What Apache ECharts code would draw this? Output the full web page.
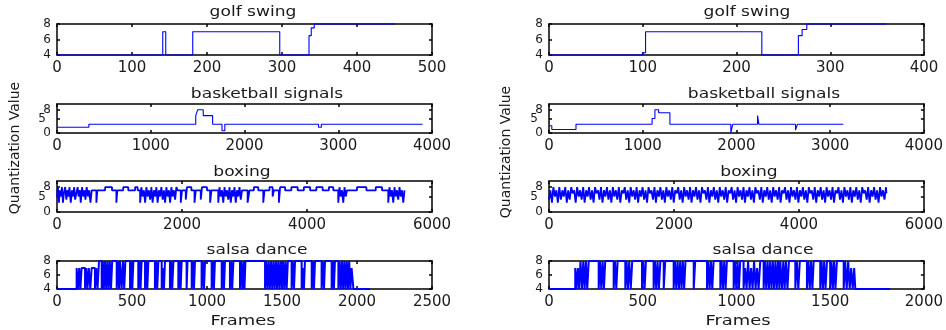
<!DOCTYPE html>
<html>
<head>
<meta charset="utf-8">
<script src="https://cdn.jsdelivr.net/npm/echarts@6/dist/echarts.min.js"></script>
<style>html,body{margin:0;padding:0;background:#fff}#c{width:946px;height:330px}</style>
</head>
<body>
<div id="c"></div>
<script>
// ---------- data (frame of each change, quantization value held from that frame) ----------
const golfL_frames = [0, 141, 145, 181, 297, 336, 339, 343, 450];
const golfL_values = [4, 7, 4, 7, 4, 6.5, 7.5, 8, 8];

const golfR_frames = [0, 100, 103, 227, 266, 270, 275, 360];
const golfR_values = [4, 4.3, 7, 4, 6.5, 7.3, 8, 8];

const bballL_frames = [0, 340, 1480, 1500, 1560, 1660, 1760, 1790, 2790, 2820, 3900];
const bballL_values = [2, 3, 6, 8, 6, 3, 0.8, 3, 2, 3, 3];

const bballR_frames = [0, 30, 288, 1100, 1130, 1170, 1290, 1940, 1960, 2225, 2240, 2630, 2650, 3140];
const bballR_values = [2.5, 1.2, 3, 5, 8, 7, 3, 0, 3, 6, 3, 1, 3, 3];

const boxL_frames = [0,15,30,45,60,80,95,110,130,150,165,185,200,220,240,255,275,290,310,330,345,365,380,400,420,440,455,475,495,515,535,555,
  630,645,770,880,950,965,1060,1140,1250,1290,
  1330,1350,1370,1390,1410,1430,1450,1470,1490,1510,1530,1550,1570,1590,1610,1630,1650,1670,1690,1710,1730,1750,1770,1790,1810,1830,1850,1870,1890,1910,1930,
  1980,2000,2060,2080,2150,2200,2220,2300,2320,2400,2450,2470,
  2580,2600,2620,2640,2660,2680,2700,2720,2740,2760,2780,2800,2820,2840,2860,2880,2900,2920,2940,2960,
  3050,3080,3150,3220,3300,3320,3400,3450,3470,3550,3570,3650,
  3750,3850,3950,4050,4150,4250,4350,4420,
  4500,4520,4540,4560,4580,4600,4620,4640,
  4800,4950,5100,5200,
  5300,5320,5340,5360,5380,5400,5420,5440,5460,5480,5500,5520,5540,5560,5570];
const boxL_values = [5,8,3,7,5,8,3,6,8,4,7,5,8,3,7,5,8,4,6,8,5,7,3,8,5,7,4,8,5,7,3,7,
  3,7,8,7,3,7,8,7,8,7,
  3,8,5,7,3,8,5,7,4,8,3,7,5,8,3,7,5,8,4,7,3,8,5,7,3,8,5,7,4,8,7,
  3,7,4,8,7,3,7,4,8,7,3,7,
  3,8,5,7,3,8,5,7,4,8,3,7,5,8,3,7,5,8,4,7,
  3,7,8,7,3,7,8,5,7,3,8,7,
  8,7,8,7,8,7,8,7,
  3,8,5,7,3,8,5,7,
  8,7,8,7,
  3,8,5,7,3,8,5,7,4,8,5,7,3,7,7];

const boxR_frames = [0,22,47,70,95,118,142,165,190,214,
  236,260,285,308,331,356,380,403,427,450,
  476,499,522,547,570,594,618,641,666,690,
  713,737,760,785,808,832,856,880,903,928,
  951,975,998,1022,1046,1070,1093,1117,1141,1165,
  1188,1213,1236,1260,1284,1307,1331,1355,1379,1402,
  1426,1450,1474,1497,1522,1545,1569,1593,1616,1640,
  1664,1688,1711,1735,1759,1783,1806,1830,1854,1878,
  1901,1925,1949,1973,1996,2020,2044,2068,2091,2115,
  2139,2163,2186,2210,2234,2258,2281,2305,2329,2353,
  2376,2400,2424,2448,2471,2495,2519,2543,2566,2590,
  2614,2638,2661,2685,2709,2733,2756,2780,2804,2828,
  2851,2875,2899,2923,2946,2970,2994,3018,3041,3065,
  3089,3113,3136,3160,3184,3208,3231,3255,3279,3303,
  3326,3350,3374,3398,3421,3445,3469,3493,3516,3540,
  3564,3588,3611,3635,3659,3683,3706,3730,3754,3778,
  3801,3825,3849,3873,3896,3920,3944,3968,3991,4015,
  4039,4063,4086,4110,4134,4158,4181,4205,4229,4253,
  4276,4300,4324,4348,4371,4395,4419,4443,4466,4490,
  4514,4538,4561,4585,4609,4633,4656,4680,4704,4728,
  4751,4775,4799,4823,4846,4870,4894,4918,4941,4965,
  4989,5013,5036,5060,5084,5108,5131,5155,5179,5203,
  5226,5250,5274,5298,5321,5345,5369,5393,5400];
const boxR_values = [4,7,3,8,5,7,3,8,4,7,
  5,8,3,7,4,8,6,7,3,8,
  5,7,4,8,3,7,5,8,4,7,
  3,8,6,7,4,8,3,7,5,8,
  4,7,3,8,5,7,4,8,3,7,
  6,8,4,7,3,8,5,7,4,8,
  3,7,5,8,4,7,3,8,6,7,
  4,8,3,7,5,8,4,7,3,8,
  5,7,4,8,3,7,6,8,4,7,
  3,8,5,7,4,8,3,7,5,8,
  4,7,3,8,6,7,4,8,3,7,
  5,8,4,7,3,8,5,7,4,8,
  3,7,6,8,4,7,3,8,5,7,
  4,8,3,7,5,8,4,7,3,8,
  6,7,4,8,3,7,5,8,4,7,
  3,8,5,7,4,8,3,7,6,8,
  4,7,3,8,5,7,4,8,3,7,
  5,8,4,7,3,8,6,7,4,8,
  3,7,5,8,4,7,3,8,5,7,
  4,8,3,7,6,8,4,7,3,8,
  5,7,4,8,3,7,5,8,4,7,
  3,8,6,7,4,8,3,7,5,8,
  4,7,3,8,5,7,4,8,6];

const salsaL_frames = [0,131,140,148,156,164,187,195,203,212,222,231,253,262,270,280,
  298,305,312,320,328,336,344,352,360,368,
  398,406,414,420,431,440,448,456,
  487,495,502,509,542,550,557,564,587,595,602,609,653,661,668,676,698,706,713,720,
  753,761,768,776,809,817,824,831,864,870,898,906,913,920,964,972,980,987,
  1031,1039,1046,1053,1098,1106,1113,1120,1153,1161,1168,1176,1220,1228,1236,1244,1250,1256,
  1387,1395,1403,1411,1419,1427,1435,1443,1451,1459,1467,1475,1483,1491,1499,1507,1515,1523,1531,1539,
  1564,1572,1580,1587,1631,1639,1646,1653,1698,1706,1713,1720,1764,1772,1780,1787,1831,1839,1846,1853,
  1876,1884,1892,1900,1908,1916,1924,1932,1940,1948,1956,1964,1976,2087];
const salsaL_values = [4,7,4,7,4,7,4,7,4,7,4,7,4,7,4,8,
  4,8,4,8,4,8,4,8,4,8,
  4,8,4,8,4,8,4,8,
  4,8,4,8,4,8,4,8,4,8,4,8,4,8,4,8,4,7,4,8,
  4,8,4,8,4,8,4,8,4,8,4,8,4,8,4,8,4,8,
  4,8,4,8,4,8,4,8,4,8,4,8,4,8,4,8,4,8,
  4,8,4,8,4,8,4,8,4,8,4,8,4,8,4,8,4,8,4,8,
  4,8,4,8,4,7,4,8,4,8,4,8,4,8,4,8,4,8,4,8,
  4,8,4,8,4,8,4,8,4,8,4,7,4,4];

const salsaR_frames = [0,140,147,154,161,168,176,183,190,197,204,212,
  265,272,279,286,293,300,345,352,359,366,407,414,421,428,436,444,
  496,503,510,517,558,565,572,579,586,594,612,620,
  665,672,679,686,693,700,707,714,721,728,772,780,
  843,850,857,864,871,878,914,921,928,935,942,949,985,992,999,1006,1013,1020,
  1038,1046,1054,1062,1070,1078,1086,1094,1102,1110,1118,1127,
  1145,1152,1159,1166,1173,1180,1187,1194,1201,1208,1215,1222,1229,1234,
  1243,1250,1257,1264,1272,1280,1314,1322,1330,1338,
  1376,1384,1391,1398,1405,1412,1447,1454,1461,1468,1475,1483,
  1500,1507,1514,1521,1528,1536,1572,1580,1588,1596,1604,1612,1620,1628,1634,1820];
const salsaR_values = [4,7,4,7,4,8,4,8,4,8,4,8,
  4,8,4,8,4,8,4,8,4,8,4,8,4,8,4,8,
  4,8,4,8,4,8,4,8,4,8,4,8,
  4,8,4,8,4,8,4,8,4,8,4,8,
  4,8,4,8,4,8,4,8,4,8,4,8,4,8,4,8,4,8,
  4,7,4,8,4,7,4,8,4,7,4,8,
  4,8,4,8,4,8,4,8,4,8,4,8,4,8,
  4,8,4,8,4,8,4,8,4,8,
  4,8,4,8,4,8,4,8,4,8,4,8,
  4,8,4,8,4,8,4,8,4,8,4,7,4,7,4,4];

const titles = ['golf swing', 'basketball signals', 'boxing', 'salsa dance'];
const xMaxL = [500, 4000, 6000, 2500];
const xMaxR = [400, 4000, 6000, 2000];
const xStepL = [100, 1000, 2000, 500];
const xStepR = [100, 1000, 2000, 500];
const yRanges = [[4, 8], [0, 10], [0, 10], [4, 8]];
const yTicks = [[4, 6, 8], [0, 5, 8], [0, 5, 8], [4, 6, 8]];
const yLabelsMain = [[4, 6, 8], [0, 8], [0, 8], [4, 6, 8]];
const yLabelsExtra = [[], [5], [5], []];
const xAxisName = 'Frames';
const yAxisName = 'Quantization Value';

// ---------- layout ----------
const colLeft = [57, 549];
const plotW = 375;
const rowTop = [24, 104, 181, 261];
const rowH = [31, 29, 31, 28];
const lineW = [1.1, 1.1, 1.8, 2];
const titlePos = [[[253, 12], [747, 12]], [[267, 94], [764, 94]], [[242, 172], [749, 172]], [[257, 250], [763, 250]]];

const seriesData = [
  [[golfL_frames, golfL_values], [golfR_frames, golfR_values]],
  [[bballL_frames, bballL_values], [bballR_frames, bballR_values]],
  [[boxL_frames, boxL_values], [boxR_frames, boxR_values]],
  [[salsaL_frames, salsaL_values], [salsaR_frames, salsaR_values]]
];

const FONT = '"DejaVu Sans", sans-serif';
const grid = [], xAxis = [], yAxis = [], series = [], graphic = [];
const lineStyle = { color: '#000', width: 1.5 };
const tickStyle = { color: '#000', width: 1.5 };
const yLabelStyle = { color: '#1a1a1a', fontFamily: FONT, fontSize: 12, showMinLabel: true, showMaxLabel: true, hideOverlap: false, formatter: v => String(v) };

for (let r = 0; r < 4; r++) {
  for (let c = 0; c < 2; c++) {
    const gi = grid.length;
    grid.push({ left: colLeft[c], top: rowTop[r], width: plotW, height: rowH[r], containLabel: false });
    const xMax = c === 0 ? xMaxL[r] : xMaxR[r];
    const xStep = c === 0 ? xStepL[r] : xStepR[r];
    const [yMin, yMax] = yRanges[r];
    const yt = yTicks[r];
    const xi = xAxis.length;
    xAxis.push({
      type: 'value', gridIndex: gi, position: 'bottom', min: 0, max: xMax, interval: xStep,
      axisLine: { show: true, onZero: false, lineStyle },
      axisTick: { show: true, inside: true, length: 3, lineStyle: tickStyle },
      axisLabel: { show: true, margin: 6, color: '#1a1a1a', fontFamily: FONT, fontSize: 15,
        showMinLabel: true, showMaxLabel: true, formatter: v => String(v) },
      splitLine: { show: false }
    });
    xAxis.push({
      type: 'value', gridIndex: gi, position: 'top', min: 0, max: xMax, interval: xStep,
      axisLine: { show: true, onZero: false, lineStyle },
      axisTick: { show: true, inside: true, length: 3, lineStyle: tickStyle },
      axisLabel: { show: false }, splitLine: { show: false }
    });
    const yi = yAxis.length;
    yAxis.push({
      type: 'value', gridIndex: gi, position: 'left', min: yMin, max: yMax,
      axisLine: { show: true, onZero: false, lineStyle },
      axisTick: { show: true, inside: true, length: 3, customValues: yt, lineStyle: tickStyle },
      axisLabel: Object.assign({ show: true, margin: 6, customValues: yLabelsMain[r] }, yLabelStyle),
      splitLine: { show: false }
    });
    yAxis.push({
      type: 'value', gridIndex: gi, position: 'right', min: yMin, max: yMax,
      axisLine: { show: true, onZero: false, lineStyle },
      axisTick: { show: true, inside: true, length: 3, customValues: yt, lineStyle: tickStyle },
      axisLabel: { show: false }, splitLine: { show: false }
    });
    if (yLabelsExtra[r].length) {
      yAxis.push({
        type: 'value', gridIndex: gi, position: 'left', offset: 0, min: yMin, max: yMax,
        axisLine: { show: false }, axisTick: { show: false },
        axisLabel: Object.assign({ show: true, margin: 11, customValues: yLabelsExtra[r] }, yLabelStyle),
        splitLine: { show: false }
      });
    }
    const [fr, vals] = seriesData[r][c];
    const n = Math.min(fr.length, vals.length);
    series.push({
      type: 'line', xAxisIndex: xi, yAxisIndex: yi, step: 'end', symbol: 'none', clip: false, z: 5,
      data: fr.slice(0, n).map((f, k) => [f, vals[k]]),
      lineStyle: { color: '#0000ff', width: lineW[r] }, animation: false, silent: true
    });
    graphic.push({
      type: 'text', x: titlePos[r][c][0], y: titlePos[r][c][1], scaleX: 1.22,
      style: { text: titles[r], font: '14px ' + FONT, fill: '#1a1a1a', textAlign: 'center', textVerticalAlign: 'middle' }
    });
  }
}
graphic.push({ type: 'text', x: 243, y: 321, scaleX: 1.28,
  style: { text: xAxisName, font: '14px ' + FONT, fill: '#1a1a1a', textAlign: 'center', textVerticalAlign: 'middle' } });
graphic.push({ type: 'text', x: 738, y: 321, scaleX: 1.28,
  style: { text: xAxisName, font: '14px ' + FONT, fill: '#1a1a1a', textAlign: 'center', textVerticalAlign: 'middle' } });
graphic.push({ type: 'text', x: 15, y: 148, rotation: Math.PI / 2,
  style: { text: yAxisName, font: '14px ' + FONT, fill: '#1a1a1a', textAlign: 'center', textVerticalAlign: 'middle' } });
graphic.push({ type: 'text', x: 506, y: 152, rotation: Math.PI / 2,
  style: { text: yAxisName, font: '14px ' + FONT, fill: '#1a1a1a', textAlign: 'center', textVerticalAlign: 'middle' } });

const chart = echarts.init(document.getElementById('c'), null, { renderer: 'canvas' });
chart.setOption({ animation: false, backgroundColor: '#fff', grid, xAxis, yAxis, series, graphic });
</script>
</body>
</html>
